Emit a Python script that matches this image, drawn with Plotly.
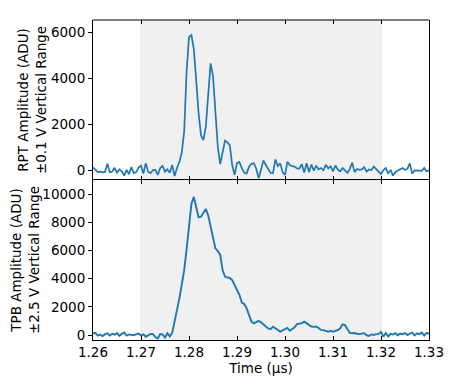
import numpy as np
import plotly.graph_objects as go
from plotly.subplots import make_subplots

# sample times (us), 0.5 ns spacing
t_start = 1.26
t_step = 0.0005
n_samples = 141
time_us = np.round(t_start + t_step * np.arange(n_samples), 4)

# RPT signal, +-0.1 V range (ADU)
rpt_adu = [
    150, 20, -60, -40, -70, -50, 300, -60, -30, 130,
    -80, 60, -20, -210, 40, -150, 160, -100, -60, 140,
    220, -120, 330, -50, -100, 30, 40, -180, 120, 210,
    -40, 60, -90, 250, -230, 120, 380, 800, 1700, 4300,
    5800, 5880, 5280, 3915, 2490, 1540, 1325, 1900, 3340, 4650,
    4100, 2760, 1040, 290, 750, 1300, 1230, 1110, 250, -180,
    330, 380, 110, -80, -120, 170, 300, 330, 100, -320,
    30, 450, 250, 50, -90, -100, 490, 200, 320, -60,
    -180, 390, 250, 200, 180, 100, 90, 290, -80, 330,
    -50, 270, 0, 220, 60, 120, 20, 260, 100, 190,
    -30, 230, 50, -20, 120, 20, -90, 80, 350, -60,
    80, 40, 60, 160, -40, 60, 30, 180, 60, -20,
    -140, 30, 120, -120, 40, -210, -60, 10, 60, 120,
    40, 80, 320, -120, 20, 10, 30, 0, 120, -30,
    20,
]

# TPB signal, +-2.5 V range (ADU)
tpb_adu = [
    100, 150, -50, 30, -80, 60, 120, -30, 90, 20,
    140, -60, 80, 180, -40, 40, 10, -20, 60, 100,
    -30, 50, -120, -30, 80, 60, -150, -250, 70, 40,
    -180, 120, -100, 150, 900, 1650, 2600, 3600, 4600, 6100,
    7900, 9300, 9800, 9150, 8350, 8400, 8700, 8950, 8500, 7700,
    6700, 6150, 5950, 5700, 4600, 4150, 4080, 4050, 3900, 3550,
    3250, 2850, 2300, 2200, 1900, 1350, 950, 830, 900, 1000,
    900, 780, 600, 470, 420, 580, 450, 320, 240, 330,
    400, 500, 300, 450, 550, 780, 830, 840, 950, 850,
    700, 600, 580, 600, 500, 360, 350, 260, 230, 300,
    230, 300, 350, 480, 760, 700, 400, 150, 120, 140,
    90, 60, 100, 130, -20, -70, 40, 0, 60, 80,
    220, -120, 150, -100, 80, 30, 130, -20, 100, 60,
    140, 0, 90, 170, -30, 120, 60, 180, -40, 150,
    90,
]

window = [1.27, 1.32]
x_ticks = [1.26, 1.27, 1.28, 1.29, 1.30, 1.31, 1.32, 1.33]
rpt_ticks = [0, 2000, 4000, 6000]
tpb_ticks = [0, 2000, 4000, 6000, 8000, 10000]

line_color = '#1f77b4'
font = dict(family='DejaVu Sans', size=13.5, color='black')

fig = make_subplots(rows=2, cols=1, shared_xaxes=True, vertical_spacing=0)
fig.add_trace(go.Scatter(x=time_us, y=rpt_adu, mode='lines',
                         line=dict(color=line_color, width=1.7)), row=1, col=1)
fig.add_trace(go.Scatter(x=time_us, y=tpb_adu, mode='lines',
                         line=dict(color=line_color, width=1.9)), row=2, col=1)

# shaded integration window on both panels
for yref in ['y domain', 'y2 domain']:
    fig.add_shape(type='rect', xref='x', yref=yref, x0=window[0], x1=window[1], y0=0, y1=1,
                  fillcolor='#f0f0f0', line=dict(color='#e4e4e4', width=1), layer='below')

axis_style = dict(showgrid=False, zeroline=False, showline=True, linecolor='black', linewidth=1,
                  tickfont=font, ticks='outside', ticklen=4, tickcolor='black', automargin=False)
fig.update_xaxes(range=[1.26, 1.33], tickvals=x_ticks, mirror='ticks', **axis_style)
fig.update_xaxes(ticks='inside', ticklen=4)
# top panel: hide its own x line so the shared border is drawn only once
fig.update_xaxes(showticklabels=False, linecolor='rgba(0,0,0,0)', row=1, col=1)
fig.add_shape(type='line', xref='x domain', yref='y domain', x0=0, x1=1, y0=1, y1=1,
              line=dict(color='black', width=1))
fig.update_xaxes(tickformat='.2f', title=dict(text='Time (µs)', font=font, standoff=2), row=2, col=1)
fig.update_yaxes(mirror=True, tickformat='d', **axis_style)
fig.update_yaxes(range=[-400, 6530], tickvals=rpt_ticks,
                 title=dict(text='RPT Amplitude (ADU)<br>±0.1 V Vertical Range', font=font, standoff=1),
                 row=1, col=1)
fig.update_yaxes(range=[-355, 11000], tickvals=tpb_ticks,
                 title=dict(text='TPB Amplitude (ADU)<br>±2.5 V Vertical Range', font=font, standoff=0),
                 row=2, col=1)

# page body has an 8px margin, so the figure is shrunk by that much
fig.update_layout(width=449, height=384, showlegend=False,
                  margin=dict(l=85, r=28, t=12, b=52),
                  plot_bgcolor='white', paper_bgcolor='white', font=font)
fig.write_html("out.html")
